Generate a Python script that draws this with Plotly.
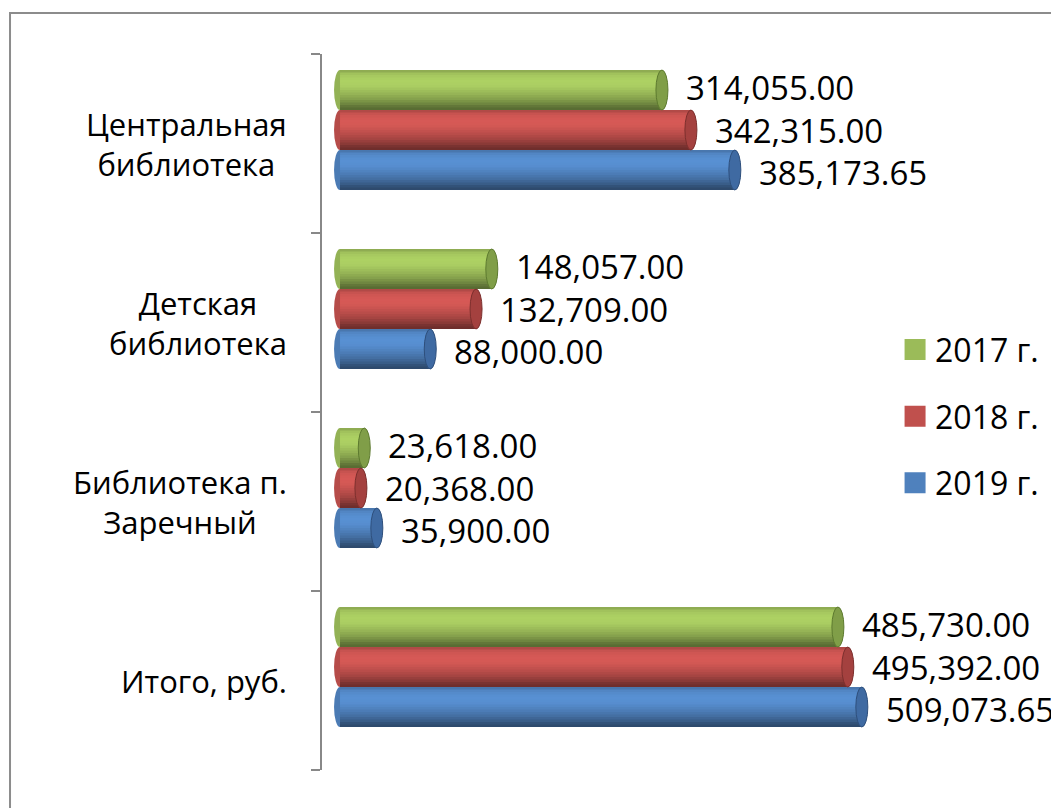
import plotly.graph_objects as go

# ---------------- data ----------------
categories = ["Центральная<br>библиотека", "Детская<br>библиотека",
              "Библиотека п.<br>Заречный", "Итого, руб."]
series_names = ["2017 г.", "2018 г.", "2019 г."]
values_2017 = [314055.00, 148057.00, 23618.00, 485730.00]
values_2018 = [342315.00, 132709.00, 20368.00, 495392.00]
values_2019 = [385173.65, 88000.00, 35900.00, 509073.65]

series_values = [values_2017, values_2018, values_2019]

# ---------------- style ----------------
FONT = "Open Sans"
base_colors = [(155, 187, 89), (192, 80, 77), (79, 129, 189)]
legend_colors = ["#9bbb59", "#c0504d", "#4f81bd"]
cap_fill = ["#809e48", "#a4413f", "#3f6aa2"]
cap_line = ["#5d7a2f", "#7c2f2d", "#2e4f7c"]
label_yshift = [3, 0, -2]

# shading profile across the cylinder (t from top edge to bottom edge)
prof_t = [0.0, 0.1, 0.25, 0.4, 0.55, 0.7, 0.82, 0.92, 1.0]
prof_m = [0.86, 1.05, 1.12, 1.10, 1.0, 0.88, 0.75, 0.62, 0.55]
N_STRIPES = 16


def shade(rgb, m):
    return "rgb(%d,%d,%d)" % tuple(max(0, min(255, int(round(c * m)))) for c in rgb)


def prof(t):
    for j in range(len(prof_t) - 1):
        if prof_t[j] <= t <= prof_t[j + 1]:
            f = (t - prof_t[j]) / (prof_t[j + 1] - prof_t[j])
            return prof_m[j] + f * (prof_m[j + 1] - prof_m[j])
    return prof_m[-1]


W = 0.2235          # bar thickness in category units
SHIFT = -0.0754     # 3D depth shift (up)
PX_PER_1 = 1.025 / 1000.0
X_MIN = -17600
X_MAX = 526800
CAP_HALF = 6.0 / PX_PER_1   # half-width of end ellipse in data units

ypos = list(range(len(categories)))

fig = go.Figure()
shapes = []
annotations = []

for k, vals in enumerate(series_values):
    top = -1.5 * W + SHIFT + k * W
    for s in range(N_STRIPES):
        t0 = s / N_STRIPES
        tc = (s + 0.5) / N_STRIPES
        fig.add_trace(go.Bar(
            x=vals, y=ypos, orientation="h",
            offset=top + t0 * W, width=(1.0 - t0) * W,
            marker=dict(color=shade(base_colors[k], prof(tc)), line=dict(width=0)),
            showlegend=False, hoverinfo="skip",
        ))
    for i, v in enumerate(vals):
        y0 = i + top
        y1 = i + top + W
        # back (left) end of cylinder
        shapes.append(dict(type="circle", xref="x", yref="y", layer="below",
                           x0=-CAP_HALF, x1=CAP_HALF, y0=y0, y1=y1,
                           fillcolor=shade(base_colors[k], 0.95), line=dict(width=0)))
        # front (right) end face
        shapes.append(dict(type="circle", xref="x", yref="y", layer="above",
                           x0=v - CAP_HALF, x1=v + CAP_HALF, y0=y0, y1=y1,
                           fillcolor=cap_fill[k],
                           line=dict(color=cap_line[k], width=1)))
        annotations.append(dict(
            x=v, y=(y0 + y1) / 2, xref="x", yref="y",
            text=f"{v:,.2f}", showarrow=False, xanchor="left", yanchor="middle",
            xshift=22, yshift=label_yshift[k],
            font=dict(family=FONT, size=33, color="#000000")))

# legend entries
for k, name in enumerate(series_names):
    fig.add_trace(go.Scatter(
        x=[None], y=[None], mode="markers", name=name,
        legendgroup=name,
        marker=dict(symbol="square", size=16, color=legend_colors[k],
                    line=dict(color=legend_colors[k], width=5)),
    ))

# category labels (centered multi-line)
for i, c in enumerate(categories):
    annotations.append(dict(
        x=0, y=i, xref="paper", yref="y", text=c, showarrow=False,
        xanchor="right", yanchor="middle", align="center", xshift=-33,
        font=dict(family=FONT, size=31, color="#000000")))

# outer chart border
shapes.append(dict(type="rect", xref="paper", yref="paper",
                   x0=-0.5591, x1=2.0, y0=-1.0, y1=1.0573,
                   line=dict(color="#8c8c8c", width=2), fillcolor="rgba(0,0,0,0)",
                   layer="below"))

# page body has an 8px margin: figure is 8px smaller and margins shifted
fig.update_layout(
    width=1051, height=800,
    margin=dict(l=314, r=179, t=46, b=38),
    paper_bgcolor="white", plot_bgcolor="white",
    barmode="overlay",
    font=dict(family=FONT, size=32, color="#000000"),
    shapes=shapes, annotations=annotations,
    showlegend=True,
    legend=dict(x=1.027, xanchor="left", y=0.494, yanchor="middle",
                font=dict(family=FONT, size=32, color="#000000"),
                tracegroupgap=22, bgcolor="rgba(0,0,0,0)"),
    xaxis=dict(range=[X_MIN, X_MAX], visible=False, showgrid=False, zeroline=False),
    yaxis=dict(range=[3.5, -0.5], tickmode="array", tickvals=ypos,
               showticklabels=False, ticks="", showgrid=False, zeroline=False,
               showline=True, linecolor="#888888", linewidth=2,
               minor=dict(tickmode="array", tickvals=[-0.5, 0.5, 1.5, 2.5, 3.5],
                          ticks="outside", ticklen=9, tickcolor="#888888",
                          tickwidth=2, showgrid=False)),
)

fig.write_html("out.html")
